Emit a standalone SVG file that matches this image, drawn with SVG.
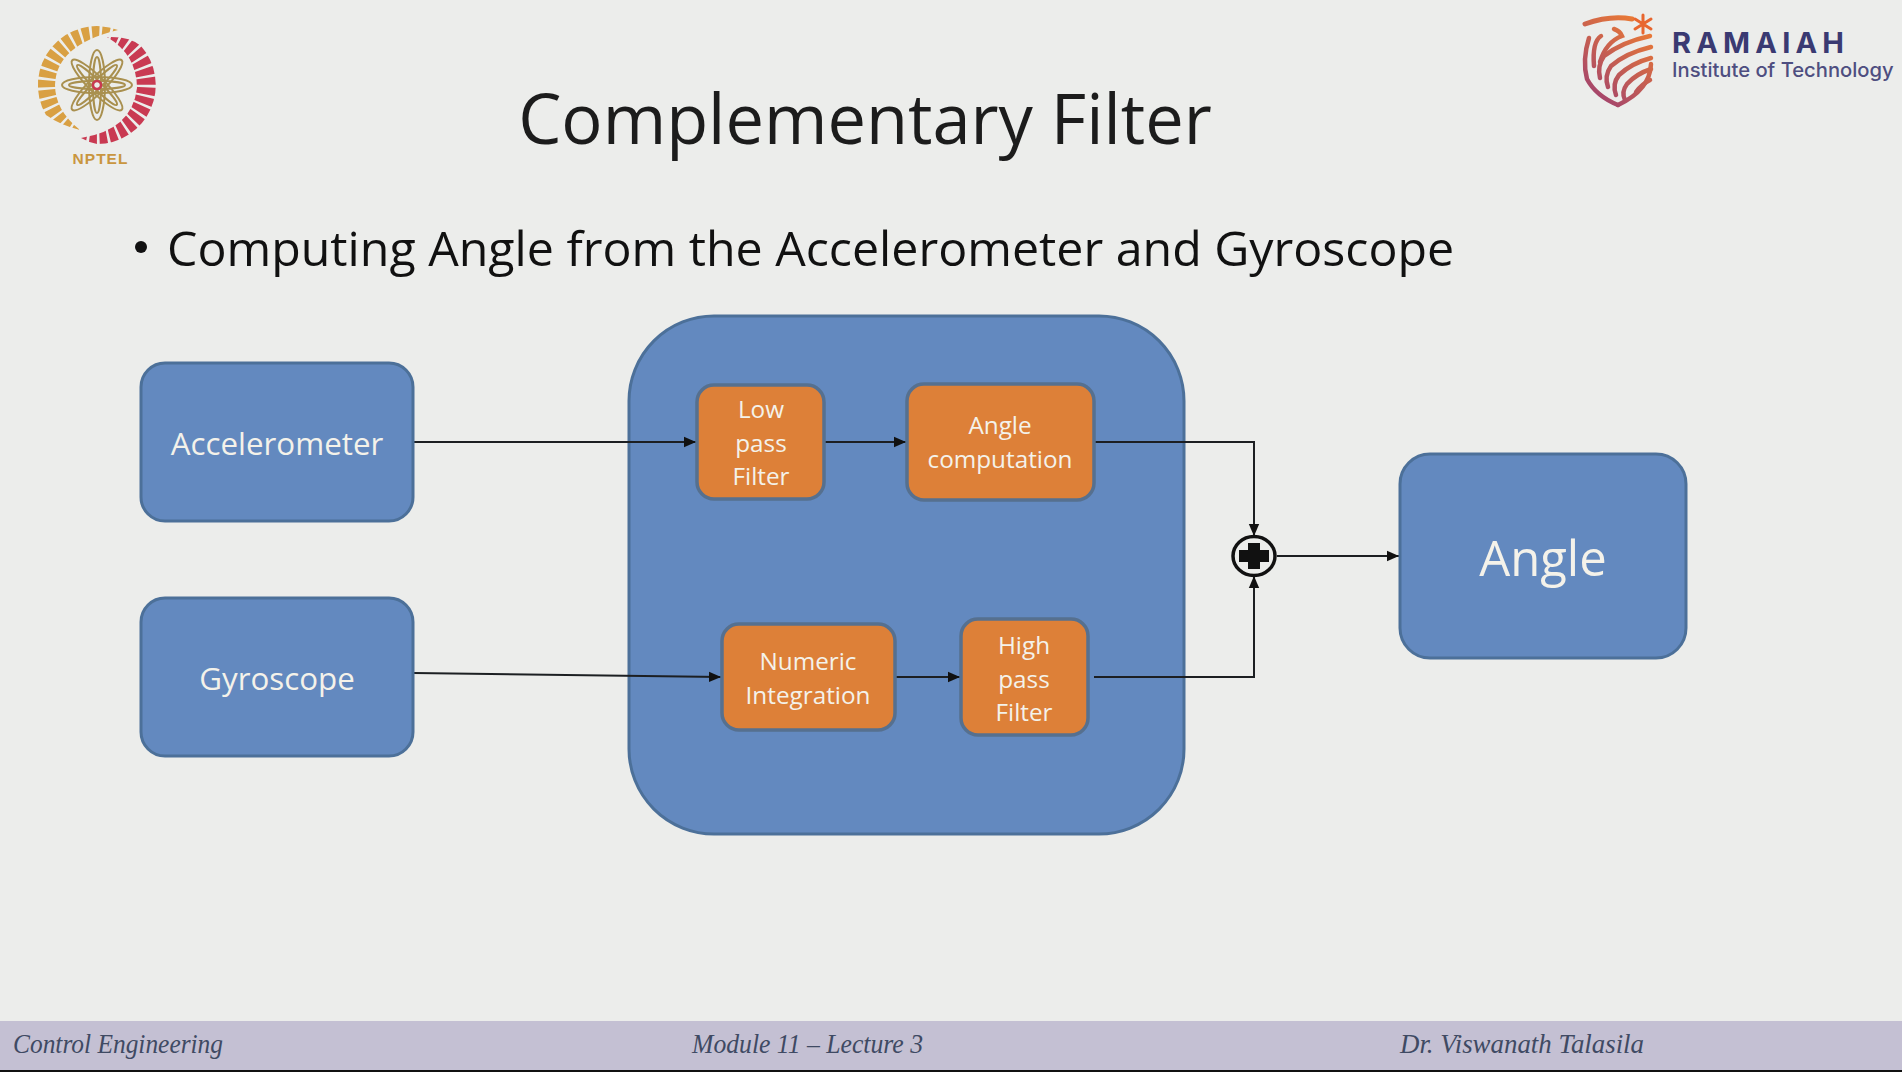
<svg xmlns="http://www.w3.org/2000/svg" width="1902" height="1072" viewBox="0 0 1902 1072">
<style>
text{font-family:"Open Sans","Liberation Sans",sans-serif}
.lbl{fill:#f4f2ea;text-anchor:middle}
.big{font-size:31.300px}
.small{font-size:24.300px}
.blue{fill:#6389bf;stroke:#4c7099;stroke-width:3}
.orange{fill:#dd8038;stroke:#56708f;stroke-width:3.500}
.wire{fill:none;stroke:#1c1f22;stroke-width:2}
.foot{font-family:"Liberation Serif",serif;font-style:italic;font-size:28px;fill:#3f4a63}
.sh{fill:none;stroke:url(#shield);stroke-width:4.500;stroke-linecap:round}
.petal{fill:none;stroke:#a9904f;stroke-width:2}
</style>
<defs>
<marker id="arrow" markerUnits="userSpaceOnUse" markerWidth="13" markerHeight="12" refX="12" refY="6" orient="auto"><path d="M0 .8L12 6L0 11.200Z" fill="#111"/></marker>
<linearGradient id="shield" gradientUnits="userSpaceOnUse" x1="1650" y1="30" x2="1590" y2="105"><stop offset="0" stop-color="#ea7a35"/><stop offset="1" stop-color="#9c3f72"/></linearGradient>
</defs>
<rect width="1902" height="1072" fill="#ecedeb"/>

<g id="nptel-logo">
<path d="M118 30A59 59 0 0 0 46 115Q60 125 80 130Q55 110 55 85Q56 45 118 30Z" fill="#d9a043"/>
<path d="M107 37Q130 36 141 46A59 59 0 0 1 97 144Q88 142 81 138Q132 130 137 88Q137 55 107 37Z" fill="#c93a52"/>
<circle cx="97" cy="85" r="50" fill="none" stroke="#ecedeb" stroke-width="26" stroke-dasharray="2.500 7"/>
<g transform="translate(97 85)">
<ellipse rx="35" ry="8" class="petal"/>
<ellipse rx="35" ry="8" class="petal" transform="rotate(45)"/>
<ellipse rx="35" ry="8" class="petal" transform="rotate(90)"/>
<ellipse rx="35" ry="8" class="petal" transform="rotate(135)"/>
<ellipse rx="28" ry="4" class="petal"/>
<ellipse rx="28" ry="4" class="petal" transform="rotate(45)"/>
<ellipse rx="28" ry="4" class="petal" transform="rotate(90)"/>
<ellipse rx="28" ry="4" class="petal" transform="rotate(135)"/>
<circle r="4" fill="none" stroke="#c93a52" stroke-width="2.500"/>
</g>
<text x="100.500" y="164" text-anchor="middle" style="font-family:'Liberation Sans',sans-serif;font-weight:700;font-size:15.500px;letter-spacing:1px" fill="#c9963f">NPTEL</text>
</g>

<g id="ramaiah-logo">
<path class="sh" style="stroke-width:5" d="M1585 24Q1610 15 1632 19"/>
<path class="sh" d="M1589 38Q1582 60 1587 79Q1596 96 1618 105"/>
<path class="sh" d="M1601 36Q1592 42 1594 66"/>
<path class="sh" d="M1614 29Q1620 31 1622 36Q1606 42 1600 62"/>
<path class="sh" d="M1650 36Q1622 42 1604 56Q1597 66 1600 78"/>
<path class="sh" d="M1651 47Q1626 53 1611 66Q1604 76 1608 87"/>
<path class="sh" d="M1651 58Q1632 63 1619 75Q1612 84 1616 95"/>
<path class="sh" d="M1651 69Q1636 74 1627 84Q1621 92 1625 100"/>
<path class="sh" d="M1650 80Q1642 84 1636 92"/>
<path class="sh" d="M1651 64Q1650 90 1618 105"/>
<g stroke="#e8662f" stroke-width="3" stroke-linecap="round"><path d="M1643 15V33M1635 19L1651 29M1651 19L1635 29"/></g>
<text x="1672" y="53" style="font-family:Inter,sans-serif;font-weight:700;font-size:29px;letter-spacing:5.200px" fill="#3a3a72">RAMAIAH</text>
<text x="1672" y="77" style="font-family:Inter,sans-serif;font-weight:500;font-size:20.200px" fill="#4e4e80">Institute of Technology</text>
</g>

<text id="title" x="865" y="144" text-anchor="middle" font-size="68.600" fill="#1c1c1c">Complementary Filter</text>
<g id="bullet">
<circle cx="141" cy="247" r="6" fill="#111"/>
<text x="167" y="266" font-size="48.300" fill="#111">Computing Angle from the Accelerometer and Gyroscope</text>
</g>

<g id="filter-block"><rect x="629" y="316" width="555" height="518" rx="85" class="blue"/></g>

<g id="connectors">
<path class="wire" marker-end="url(#arrow)" d="M414 442H696"/>
<path class="wire" marker-end="url(#arrow)" d="M825 442H906"/>
<path class="wire" marker-end="url(#arrow)" d="M1094 442H1254V536"/>
<path class="wire" marker-end="url(#arrow)" d="M414 673L721 677"/>
<path class="wire" marker-end="url(#arrow)" d="M896 677H960"/>
<path class="wire" marker-end="url(#arrow)" d="M1094 677H1254V576"/>
<path class="wire" marker-end="url(#arrow)" d="M1277 556H1399"/>
</g>

<g id="accelerometer"><rect x="141" y="363" width="272" height="158" rx="24" class="blue"/><text x="277" y="455" class="lbl big">Accelerometer</text></g>
<g id="gyroscope"><rect x="141" y="598" width="272" height="158" rx="24" class="blue"/><text x="277" y="690" class="lbl big">Gyroscope</text></g>
<g id="low-pass"><rect x="697" y="385" width="127" height="114" rx="17" class="orange"/><text class="lbl small" x="761" y="418">Low</text><text class="lbl small" x="761" y="452">pass</text><text class="lbl small" x="761" y="485">Filter</text></g>
<g id="angle-computation"><rect x="907" y="384" width="187" height="116" rx="17" class="orange"/><text class="lbl small" x="1000" y="434">Angle</text><text class="lbl small" x="1000" y="468">computation</text></g>
<g id="numeric-integration"><rect x="722" y="624" width="173" height="106" rx="17" class="orange"/><text class="lbl small" x="808" y="670">Numeric</text><text class="lbl small" x="808" y="704">Integration</text></g>
<g id="high-pass"><rect x="961" y="619" width="127" height="116" rx="17" class="orange"/><text class="lbl small" x="1024" y="654">High</text><text class="lbl small" x="1024" y="688">pass</text><text class="lbl small" x="1024" y="721">Filter</text></g>
<g id="sum"><ellipse cx="1254" cy="556" rx="21" ry="19.500" fill="#ecedeb" stroke="#111" stroke-width="3.500"/><path d="M1248 543H1260V550H1269V562H1260V569H1248V562H1239V550H1248Z" fill="#111"/></g>
<g id="angle"><rect x="1400" y="454" width="286" height="204" rx="30" class="blue"/><text x="1543" y="576" class="lbl" font-size="49">Angle</text></g>

<g id="footer">
<rect y="1021" width="1902" height="49" fill="#c4c0d3"/>
<rect y="1070" width="1902" height="2" fill="#111"/>
<text class="foot" x="13" y="1053" textLength="210" lengthAdjust="spacingAndGlyphs">Control Engineering</text>
<text class="foot" x="692" y="1053" textLength="231" lengthAdjust="spacingAndGlyphs">Module 11 – Lecture 3</text>
<text class="foot" x="1400" y="1053" textLength="244" lengthAdjust="spacingAndGlyphs">Dr. Viswanath Talasila</text>
</g>
</svg>
